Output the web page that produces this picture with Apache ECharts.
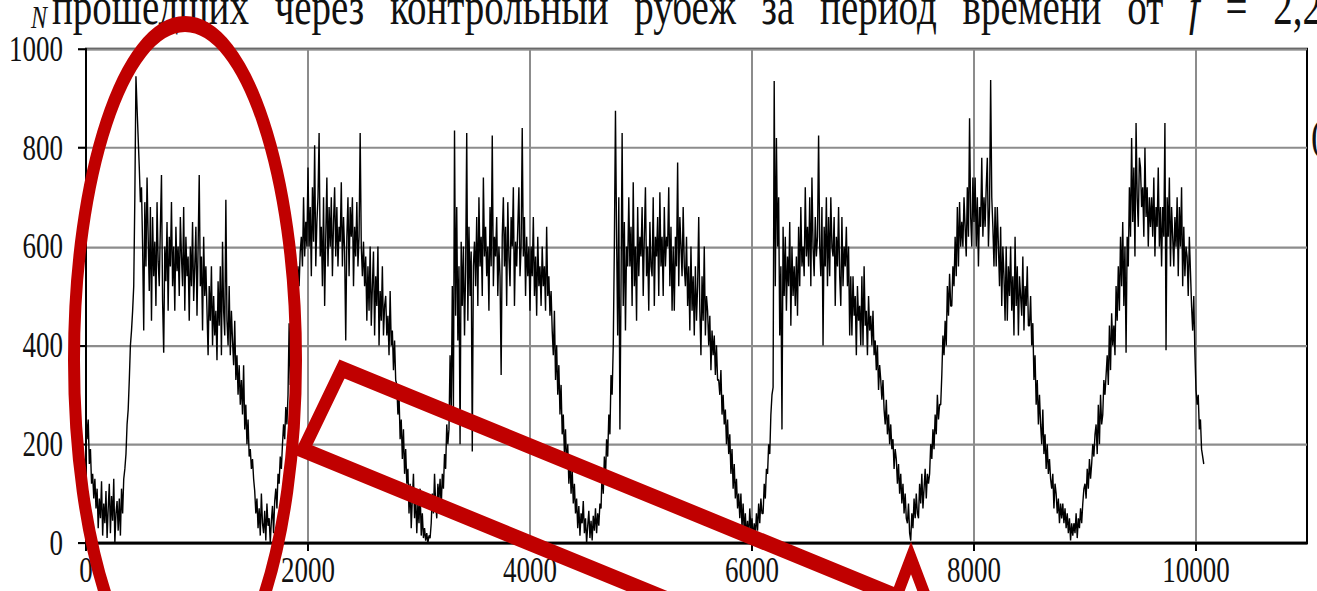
<!DOCTYPE html>
<html>
<head>
<meta charset="utf-8">
<script src="https://cdn.jsdelivr.net/npm/echarts@6/dist/echarts.min.js"></script>
<style>
  html, body { margin: 0; padding: 0; background: #fff; }
  #wrap { width: 1317px; height: 591px; overflow: hidden; }
  /* the figure is drawn on a 444px-tall surface and stretched to the full page height */
  #chart { width: 1317px; height: 444px; transform: scaleY(1.331081); transform-origin: 0 0; }
</style>
</head>
<body>
<div id="wrap"><div id="chart"></div></div>
<script>
// Vehicle count N through the checkpoint, one reading every timeStep units of time
const timeStep = 10;
const counts = [
  265,210,250,160,190,120,140,90,130,70,      // 0
  110,30,90,50,125,15,80,40,105,10,
  70,120,20,95,45,130,0,60,85,25,
  90,15,110,60,130,150,180,240,270,330,
  400,430,470,520,700,945,880,820,760,690,
  720,600,430,690,560,740,620,510,680,450,    // 500
  660,540,610,480,690,570,520,640,745,490,
  385,600,530,650,470,620,560,690,520,600,
  470,640,550,600,500,660,580,520,680,470,
  620,540,580,450,600,520,650,490,560,640,
  460,600,745,520,580,430,620,500,560,470,    // 1000
  380,520,450,560,400,500,420,470,370,530,
  440,560,380,610,470,420,695,450,400,520,
  380,470,410,360,450,330,380,300,360,280,
  330,260,360,230,280,200,250,175,190,150,
  170,130,105,60,90,30,70,15,100,40,          // 1500
  20,65,5,80,35,50,0,45,75,20,
  85,110,70,140,120,175,150,200,240,210,
  275,240,300,445,320,380,340,460,420,500,
  480,560,520,590,620,560,700,580,650,600,
  760,600,680,540,720,610,805,560,650,700,    // 2000
  830,580,640,520,700,480,620,740,560,680,
  600,700,540,650,720,580,680,560,640,610,
  730,560,660,590,410,620,700,540,680,620,
  700,520,640,580,690,560,620,830,600,540,
  610,520,580,450,560,470,600,440,520,590,    // 2500
  420,540,480,600,400,510,450,560,420,480,
  500,420,460,380,510,400,430,350,410,330,
  320,260,300,210,250,170,230,140,190,120,
  150,60,120,30,90,140,50,100,20,80,
  40,110,15,60,10,30,5,20,0,15,               // 3000
  10,40,100,60,140,80,50,120,90,130,
  70,140,110,180,150,240,200,230,380,260,
  520,270,835,460,680,410,560,200,610,480,
  600,420,550,830,450,640,500,590,185,560,
  610,520,660,480,700,560,620,500,740,580,    // 3500
  640,540,600,470,680,560,825,520,620,580,
  660,500,600,540,340,620,700,560,640,480,
  690,580,520,660,600,720,480,610,560,640,
  720,540,600,840,580,660,500,620,540,600,
  470,600,540,660,500,580,460,620,520,560,    // 4000
  480,600,520,560,470,640,500,540,460,510,
  430,380,470,330,400,300,360,260,320,220,
  260,180,230,150,200,120,170,100,150,80,
  120,60,90,30,75,15,60,40,85,20,
  50,0,35,65,10,45,5,55,25,70,                // 4500
  20,60,35,80,70,150,100,175,130,210,
  175,260,220,340,300,400,600,875,620,420,
  700,230,520,830,480,650,430,600,560,700,
  560,640,480,730,520,600,450,680,540,620,
  580,680,500,620,720,540,600,470,650,560,    // 5000
  540,700,480,620,580,660,500,710,560,620,
  500,680,560,620,600,720,520,640,470,600,
  470,620,560,770,520,660,600,540,680,560,
  520,620,480,560,430,600,470,540,420,560,
  450,520,660,470,380,540,450,600,420,500,    // 5500
  470,400,460,350,430,380,420,340,400,330,
  330,300,350,260,300,240,270,200,250,180,
  220,140,190,110,160,90,130,70,100,50,
  100,30,80,20,60,10,45,5,70,25,
  50,5,40,15,60,25,80,40,90,60,               // 6000
  60,120,90,150,140,200,180,260,300,315,
  935,520,820,600,700,420,560,230,640,500,
  620,470,580,520,650,440,600,500,560,480,
  580,460,640,520,680,560,600,540,720,580,
  640,560,700,520,740,600,540,660,580,620,    // 6500
  825,600,540,680,400,640,560,700,520,660,
  540,700,600,580,660,480,620,560,680,540,
  480,660,520,600,560,640,520,600,420,540,
  420,540,460,500,380,520,450,480,400,540,
  400,560,440,470,380,500,430,460,400,470,    // 7000
  380,410,350,400,310,360,330,290,330,270,
  240,290,220,260,200,240,190,210,150,190,
  170,120,160,100,140,80,120,60,100,50,
  40,80,20,5,60,30,90,50,100,60,
  50,120,80,140,70,110,150,90,140,120,        // 7500
  140,200,170,230,190,260,220,300,250,280,
  280,340,420,380,450,400,520,460,545,480,
  480,560,520,620,540,680,560,690,600,650,
  600,700,640,580,720,620,860,660,600,740,
  650,740,600,700,560,680,640,780,620,700,    // 8000
  640,720,780,600,680,937,700,640,560,680,
  560,680,600,520,640,480,600,540,450,600,
  450,560,500,600,470,540,420,620,480,560,
  420,540,500,460,580,430,520,480,560,440,
  440,500,400,445,330,380,280,330,240,300,    // 8500
  240,200,270,180,220,150,200,140,170,130,
  110,140,70,120,100,60,90,40,80,50,
  80,40,70,30,60,20,50,5,40,15,
  40,20,60,10,50,30,70,40,80,110,
  120,90,150,110,170,130,160,200,175,220,     // 9000
  240,180,280,200,300,240,260,330,300,340,
  380,320,440,350,465,400,440,380,520,450,
  560,470,620,520,650,480,600,385,620,560,
  720,620,820,650,760,580,850,700,640,780,
  760,680,720,620,800,660,720,600,700,640,    // 9500
  700,620,740,580,680,640,760,600,680,560,
  680,620,850,390,700,620,740,560,680,620,
  560,660,600,700,540,680,600,720,520,640,
  540,600,580,500,620,550,480,430,500,385,
  310,280,300,230,250,190,175,160              // 10000
];
const xTicks = [0, 2000, 4000, 6000, 8000, 10000];
const yTicks = [0, 200, 400, 600, 800, 1000];
const headerWords = ['прошедших', 'через', 'контрольный', 'рубеж', 'за', 'период', 'времени', 'от'];
const headerSymbol = 'f';
const headerTail = ['=', '2,2'];

const series = counts.map((v, i) => [i * timeStep, v]);

const serif = '"Liberation Serif", "DejaVu Serif", serif';
const red = '#c00000';
const SY = 591 / 444;          // vertical stretch applied to the drawing surface
const Y = v => v / SY;         // page y -> surface y

// justified header line, clipped by the top edge of the page
const headerFont = '39px ' + serif;
const headerItems = headerWords.map(t => ({ t, font: headerFont }))
  .concat([{ t: headerSymbol, font: 'italic ' + headerFont }])
  .concat(headerTail.map(t => ({ t, font: headerFont })));
const measure = document.createElement('canvas').getContext('2d');
headerItems.forEach(it => { measure.font = it.font; it.w = measure.measureText(it.t).width; });
const lineLeft = 52, lineRight = 1322;
const gap = (lineRight - lineLeft - headerItems.reduce((s, it) => s + it.w, 0)) / (headerItems.length - 1);
let cursor = lineLeft;
const graphics = headerItems.map(it => {
  const el = { type: 'text', left: cursor, top: Y(24) - 33, z: 10, silent: true,
    style: { text: it.t, font: it.font, fill: '#111' } };
  cursor += it.w + gap;
  return el;
});

graphics.push(
  { type: 'text', left: 31, top: Y(29) - 21, z: 10, silent: true,
    style: { text: 'N', font: 'italic 24px ' + serif, fill: '#111' } },
  { type: 'text', left: 1311, top: Y(112), z: 10, silent: true,
    style: { text: '(', font: '34px ' + serif, fill: '#111' } },
  {
    type: 'ellipse', z: 100, silent: true,
    shape: { cx: 185, cy: Y(360), rx: 111, ry: Y(336) },
    style: { fill: 'none', stroke: red, lineWidth: 12 }
  },
  {
    type: 'polygon', z: 100, silent: true,
    shape: { points: [[303, Y(450)], [342, Y(369)], [1342, Y(779)], [1303, Y(860)]] },
    style: { fill: 'none', stroke: red, lineWidth: 12, lineJoin: 'miter' }
  },
  {
    type: 'polyline', z: 100, silent: true,
    shape: { points: [[880, Y(640)], [911, Y(558)], [942, Y(640)]] },
    style: { fill: 'none', stroke: red, lineWidth: 11, lineJoin: 'miter', miterLimit: 10 }
  }
);

const chart = echarts.init(document.getElementById('chart'), null, { renderer: 'svg' });

chart.setOption({
  animation: false,
  backgroundColor: '#fff',
  grid: {
    left: 86, right: 10, top: Y(49), bottom: Y(48),
    outerBoundsMode: 'none', containLabel: false,
    show: true, borderColor: '#000', borderWidth: 2, backgroundColor: 'transparent'
  },
  xAxis: {
    type: 'value', min: 0, max: 11000, interval: 2000,
    axisLine: { show: true, onZero: false, lineStyle: { color: '#000', width: 2 } },
    axisTick: { show: true, length: 6, lineStyle: { color: '#000', width: 2 }, customValues: xTicks },
    axisLabel: {
      fontFamily: serif, fontSize: 27, lineHeight: 18, color: '#111', margin: 11, customValues: xTicks,
      formatter: v => String(v)
    },
    splitLine: { show: true, lineStyle: { color: '#8c8c8c', width: 2 } }
  },
  yAxis: {
    type: 'value', min: 0, max: 1000, interval: 200,
    axisLine: { show: true, lineStyle: { color: '#000', width: 2 } },
    axisTick: { show: true, length: 8, lineStyle: { color: '#000', width: 1.6 }, customValues: yTicks },
    axisLabel: {
      fontFamily: serif, fontSize: 27, lineHeight: 18, color: '#111', margin: 23, customValues: yTicks,
      formatter: v => String(v)
    },
    splitLine: { show: true, lineStyle: { color: '#8c8c8c', width: 1.6 } }
  },
  series: [{
    type: 'line',
    data: series,
    showSymbol: false,
    sampling: null,
    lineStyle: { color: '#000', width: 1.4 },
    z: 5
  }],
  graphic: graphics
});
</script>
</body>
</html>
